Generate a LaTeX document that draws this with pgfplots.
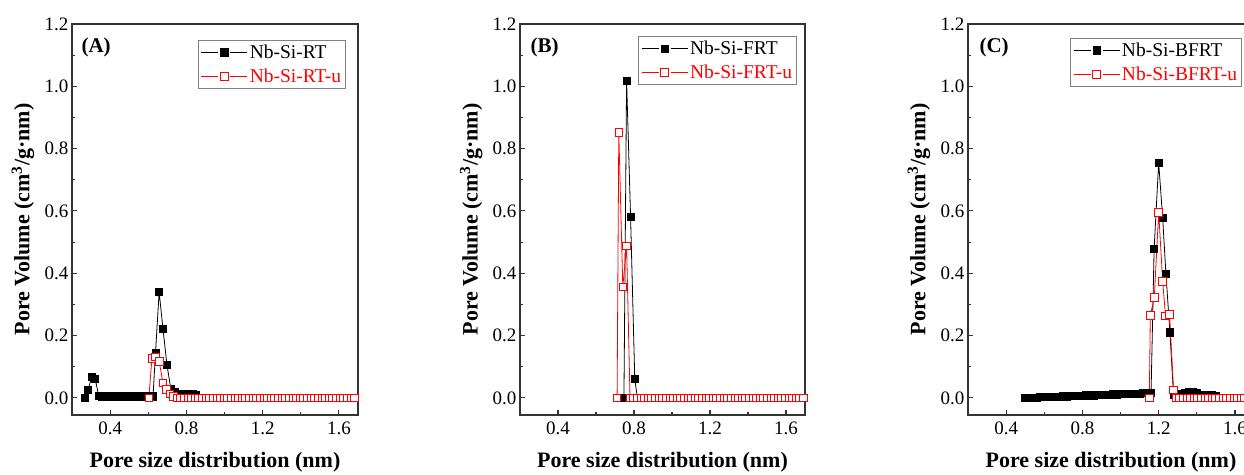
\documentclass[border=0pt]{standalone}
\usepackage{fontspec}
\setmainfont{Liberation Serif}
\usepackage{pgfplots}
\pgfplotsset{compat=1.18}

\pgfplotsset{
  panel/.style={
    scale only axis, width=286pt, height=391pt,
    xmin=0.2, xmax=1.7, ymin=-0.055, ymax=1.2,
    xtick={0.4,0.8,1.2,1.6}, ytick={0,0.2,0.4,0.6,0.8,1.0,1.2},
    minor x tick num=1, minor y tick num=1,
    tick pos=left, tick align=inside,
    major tick length=5pt, minor tick length=3pt,
    axis line style={line width=1.2pt, black!80},
    every tick/.style={line width=1.1pt, black!80},
    tick label style={font=\fontsize{19}{22}\selectfont,
      /pgf/number format/assume math mode=true,
      /pgf/number format/fixed, /pgf/number format/fixed zerofill,
      /pgf/number format/precision=1},
    xticklabel style={yshift=-3pt},
    xlabel={Pore size distribution (nm)},
    ylabel={Pore Volume (cm\textsuperscript{3}/g·nm)},
    label style={font=\fontsize{22}{26}\selectfont\bfseries},
    xlabel style={at={(axis description cs:0.5,-0.1355)}, anchor=base},
    ylabel style={at={(axis description cs:-0.1713,0.5)}, anchor=center},
    legend style={anchor=north east, draw=gray, line width=0.8pt,
      font=\fontsize{19.5}{22}\selectfont, inner sep=2.5pt, row sep=5pt},
    legend cell align=left,
    legend image code/.code={
      \draw[#1] (0pt,0pt) -- (17pt,0pt);
      \draw[#1] (29pt,0pt) -- (46pt,0pt);
      \draw[#1, only marks] plot coordinates {(23pt,0pt)};},
  },
  blk/.style={black, line width=0.8pt, mark=square*, mark size=3.6pt,
    mark options={solid, fill=black}},
  rd/.style={red, line width=0.8pt, mark=square*, mark size=3.8pt,
    mark options={solid, fill=white, draw=red, line width=0.8pt}},
}

\begin{document}
\begin{tikzpicture}[x=1pt,y=1pt]
\useasboundingbox (0,0) rectangle (1244pt,474pt);
\clip (0,0) rectangle (1244pt,474pt);

% (A)
\begin{axis}[panel, at={(72pt,59pt)}, anchor=south west,
  legend style={at={(axis description cs:0.958,0.959)}}]
\addplot[blk] coordinates {
(0.268,0.000) (0.285,0.026) (0.303,0.067) (0.322,0.060) (0.340,0.006)
(0.357,0.005) (0.373,0.005) (0.389,0.005) (0.405,0.005) (0.421,0.005)
(0.437,0.005) (0.453,0.005) (0.469,0.005) (0.485,0.005) (0.501,0.005)
(0.517,0.005) (0.533,0.005) (0.549,0.005) (0.565,0.005) (0.581,0.005)
(0.597,0.005) (0.613,0.005) (0.625,0.005)
(0.638,0.145) (0.657,0.340) (0.677,0.222) (0.698,0.106) (0.718,0.030)
(0.737,0.018) (0.756,0.013) (0.775,0.012) (0.794,0.013) (0.813,0.013)
(0.832,0.012) (0.851,0.010)
};
\addlegendentry{Nb-Si-RT}
\addplot[rd] coordinates {
(0.603,0.000) (0.619,0.126) (0.638,0.131) (0.657,0.118) (0.677,0.048)
(0.696,0.027) (0.714,0.013) (0.732,0.005)
(0.750,0) (0.769,0) (0.788,0) (0.807,0) (0.826,0) (0.845,0) (0.864,0)
(0.883,0) (0.902,0) (0.921,0) (0.940,0) (0.959,0) (0.978,0) (0.997,0)
(1.016,0) (1.035,0) (1.054,0) (1.073,0) (1.092,0) (1.111,0) (1.130,0)
(1.149,0) (1.168,0) (1.187,0) (1.206,0) (1.225,0) (1.244,0) (1.263,0)
(1.282,0) (1.301,0) (1.320,0) (1.339,0) (1.358,0) (1.377,0) (1.396,0)
(1.415,0) (1.434,0) (1.453,0) (1.472,0) (1.491,0) (1.510,0) (1.529,0)
(1.548,0) (1.567,0) (1.586,0) (1.605,0) (1.624,0) (1.643,0) (1.662,0)
(1.681,0)
};
\addlegendentry{\textcolor{red}{Nb-Si-RT-u}}
\node[anchor=base west, font=\fontsize{21}{24}\selectfont\bfseries]
  at (rel axis cs:0.021,0.928) {(A)};
\end{axis}

% (B)
\begin{axis}[panel, width=285pt, at={(520pt,59pt)}, anchor=south west,
  legend style={at={(axis description cs:0.972,0.969)}}]
\addplot[blk] coordinates {
(0.747,0.000) (0.761,1.018) (0.782,0.581) (0.804,0.060) (0.818,0.000)
};
\addlegendentry{Nb-Si-FRT}
\addplot[rd] coordinates {
(0.711,0.000) (0.720,0.853) (0.741,0.356) (0.761,0.488)
(0.779,0) (0.798,0) (0.817,0) (0.836,0) (0.855,0) (0.874,0) (0.893,0)
(0.912,0) (0.931,0) (0.950,0) (0.969,0) (0.988,0) (1.007,0) (1.026,0)
(1.045,0) (1.064,0) (1.083,0) (1.102,0) (1.121,0) (1.140,0) (1.159,0)
(1.178,0) (1.197,0) (1.216,0) (1.235,0) (1.254,0) (1.273,0) (1.292,0)
(1.311,0) (1.330,0) (1.349,0) (1.368,0) (1.387,0) (1.406,0) (1.425,0)
(1.444,0) (1.463,0) (1.482,0) (1.501,0) (1.520,0) (1.539,0) (1.558,0)
(1.577,0) (1.596,0) (1.615,0) (1.634,0) (1.653,0) (1.672,0) (1.691,0)
};
\addlegendentry{\textcolor{red}{Nb-Si-FRT-u}}
\node[anchor=base west, font=\fontsize{21}{24}\selectfont\bfseries]
  at (rel axis cs:0.025,0.928) {(B)};
\end{axis}

% (C)
\begin{axis}[panel, at={(968pt,59pt)}, anchor=south west,
  legend style={at={(axis description cs:0.958,0.964)}}]
\addplot[blk] coordinates {
(0.50,0.000) (0.52,0.000) (0.54,0.001) (0.56,0.001) (0.58,0.002)
(0.60,0.002) (0.62,0.003) (0.64,0.003) (0.66,0.004) (0.68,0.004)
(0.70,0.005) (0.72,0.005) (0.74,0.006) (0.76,0.006) (0.78,0.007)
(0.80,0.007) (0.82,0.008) (0.84,0.008) (0.86,0.008) (0.88,0.009)
(0.90,0.009) (0.92,0.010) (0.94,0.010) (0.96,0.011) (0.98,0.011)
(1.00,0.012) (1.02,0.012) (1.04,0.013) (1.06,0.013) (1.08,0.014)
(1.10,0.014) (1.12,0.015) (1.14,0.015) (1.160,0.016)
(1.176,0.477) (1.200,0.755) (1.221,0.577) (1.238,0.398) (1.259,0.210)
(1.278,0.010) (1.300,0.008) (1.320,0.012) (1.340,0.017) (1.360,0.020)
(1.380,0.020) (1.400,0.017) (1.420,0.008) (1.440,0.008) (1.460,0.010)
(1.480,0.010) (1.500,0.006)
};
\addlegendentry{Nb-Si-BFRT}
\addplot[rd] coordinates {
(1.151,0.000) (1.156,0.264) (1.177,0.323) (1.200,0.595) (1.221,0.374)
(1.236,0.263) (1.257,0.268) (1.278,0.026)
(1.290,0) (1.309,0) (1.328,0) (1.347,0) (1.366,0) (1.385,0) (1.404,0)
(1.423,0) (1.442,0) (1.461,0) (1.480,0) (1.499,0) (1.518,0) (1.537,0)
(1.556,0) (1.575,0) (1.594,0) (1.613,0) (1.632,0) (1.651,0) (1.670,0)
(1.689,0)
};
\addlegendentry{\textcolor{red}{Nb-Si-BFRT-u}}
\node[anchor=base west, font=\fontsize{21}{24}\selectfont\bfseries]
  at (rel axis cs:0.028,0.926) {(C)};
\end{axis}
\end{tikzpicture}
\end{document}
